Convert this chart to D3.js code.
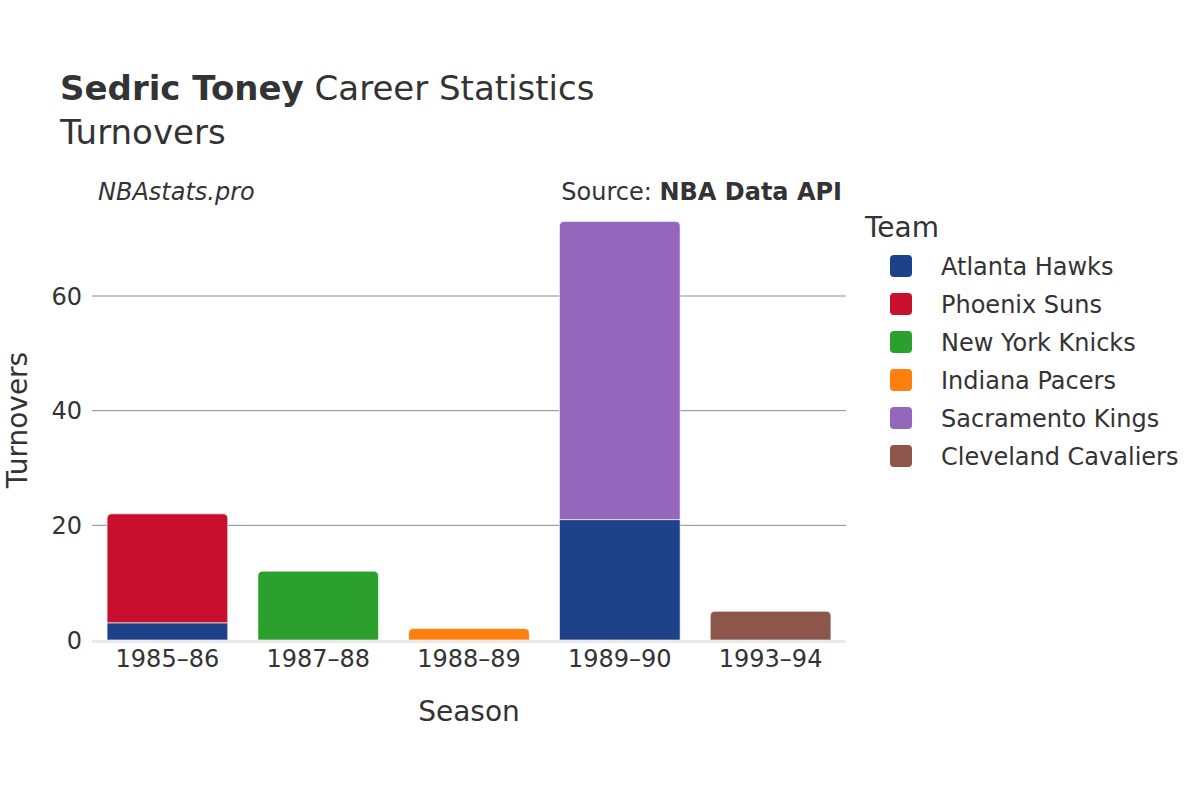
<!DOCTYPE html>
<html><head><meta charset="utf-8">
<script src="https://cdn.jsdelivr.net/npm/d3@7"></script>
<style>body{margin:0;background:#fff}svg{font-family:"DejaVu Sans",sans-serif}</style>
</head><body><svg id="c" width="1200" height="800"></svg>
<script>
const seasons = ["1985–86","1987–88","1988–89","1989–90","1993–94"];
const teams = ["Atlanta Hawks","Phoenix Suns","New York Knicks","Indiana Pacers","Sacramento Kings","Cleveland Cavaliers"];
const teamColors = ["#1d428a","#c8102e","#2ca02c","#ff7f0e","#9467bd","#8c564b"];
// values per team, aligned with seasons
const atlanta    = [3, 0, 0, 21, 0];
const phoenix    = [19, 0, 0, 0, 0];
const newYork    = [0, 12, 0, 0, 0];
const indiana    = [0, 0, 2, 0, 0];
const sacramento = [0, 0, 0, 52, 0];
const cleveland  = [0, 0, 0, 0, 5];
const yTicks = [0, 20, 40, 60];

const series = [atlanta, phoenix, newYork, indiana, sacramento, cleveland];
const rows = seasons.map((s,i)=>{const r={season:s}; teams.forEach((t,j)=>r[t]=series[j][i]); return r;});
const stack = d3.stack().keys(teams)(rows);

const svg = d3.select("#c");
const L=92, R=846, B=640;
const x = d3.scaleBand().domain(seasons).range([L,R]).paddingInner(0.2).paddingOuter(0.1);
const y = d3.scaleLinear().domain([0,60]).range([B,296]);
const txt="#333";

// grid
svg.append("g").selectAll("line").data(yTicks.filter(d=>d>0)).join("line")
  .attr("x1",L).attr("x2",R).attr("y1",d=>y(d)).attr("y2",d=>y(d))
  .attr("stroke","#8c8c8c").attr("stroke-width",1);

// bars
const totals = rows.map(r=>d3.sum(teams,t=>r[t]));
function barPath(x0,w,y0,y1,rad){
  rad=Math.min(rad,(y0-y1));
  return `M${x0},${y0}V${y1+rad}Q${x0},${y1} ${x0+rad},${y1}H${x0+w-rad}Q${x0+w},${y1} ${x0+w},${y1+rad}V${y0}Z`;
}
stack.forEach((layer,j)=>{
  svg.append("g").selectAll("path").data(layer.filter(d=>d[1]-d[0]>0)).join("path")
    .attr("d",(d)=>{
      const i=seasons.indexOf(d.data.season);
      const top = d[1]===totals[i];
      return barPath(x(d.data.season),x.bandwidth(),y(d[0]),y(d[1]),top?5:0);
    })
    .attr("fill",teamColors[j]).attr("stroke","#fff").attr("stroke-opacity",0.6).attr("stroke-width",1);
});

// zero line
svg.append("line").attr("x1",L).attr("x2",R).attr("y1",y(0)+1.5).attr("y2",y(0)+1.5)
  .attr("stroke","#ebebeb").attr("stroke-width",3);

// y ticks
svg.append("g").selectAll("text").data(yTicks).join("text")
  .attr("x",82).attr("y",d=>y(d)).attr("dy","0.36em").attr("text-anchor","end")
  .attr("font-size",24).attr("fill",txt).text(d=>d);
// x ticks
svg.append("g").selectAll("text").data(seasons).join("text")
  .attr("x",d=>x(d)+x.bandwidth()/2).attr("y",667).attr("text-anchor","middle")
  .attr("font-size",24).attr("fill",txt).text(d=>d);

// axis titles
svg.append("text").attr("x",469).attr("y",721).attr("text-anchor","middle").attr("font-size",28).attr("fill",txt).text("Season");
svg.append("text").attr("transform","translate(27,420) rotate(-90)").attr("text-anchor","middle").attr("font-size",28).attr("fill",txt).text("Turnovers");

// titles
const t1=svg.append("text").attr("x",60).attr("y",100).attr("font-size",34).attr("fill",txt);
t1.append("tspan").attr("font-weight","bold").text("Sedric Toney");
t1.append("tspan").text(" Career Statistics");
svg.append("text").attr("x",60).attr("y",144).attr("font-size",34).attr("fill",txt).text("Turnovers");
svg.append("text").attr("x",98).attr("y",200).attr("font-size",24).attr("font-style","italic").attr("fill",txt).text("NBAstats.pro");
const s=svg.append("text").attr("x",842).attr("y",200).attr("font-size",24).attr("text-anchor","end").attr("fill",txt);
s.append("tspan").text("Source: ");
s.append("tspan").attr("font-weight","bold").text("NBA Data API");

// legend
svg.append("text").attr("x",865).attr("y",237).attr("font-size",28).attr("fill",txt).text("Team");
const lg=svg.append("g").selectAll("g").data(teams).join("g").attr("transform",(d,i)=>`translate(0,${266+i*38})`);
lg.append("rect").attr("x",890).attr("y",-11).attr("width",22).attr("height",22).attr("rx",4)
  .attr("fill",(d,i)=>teamColors[i]);
lg.append("text").attr("x",941).attr("y",0).attr("dy","0.36em").attr("font-size",24).attr("fill",txt).text(d=>d);
</script></body></html>
